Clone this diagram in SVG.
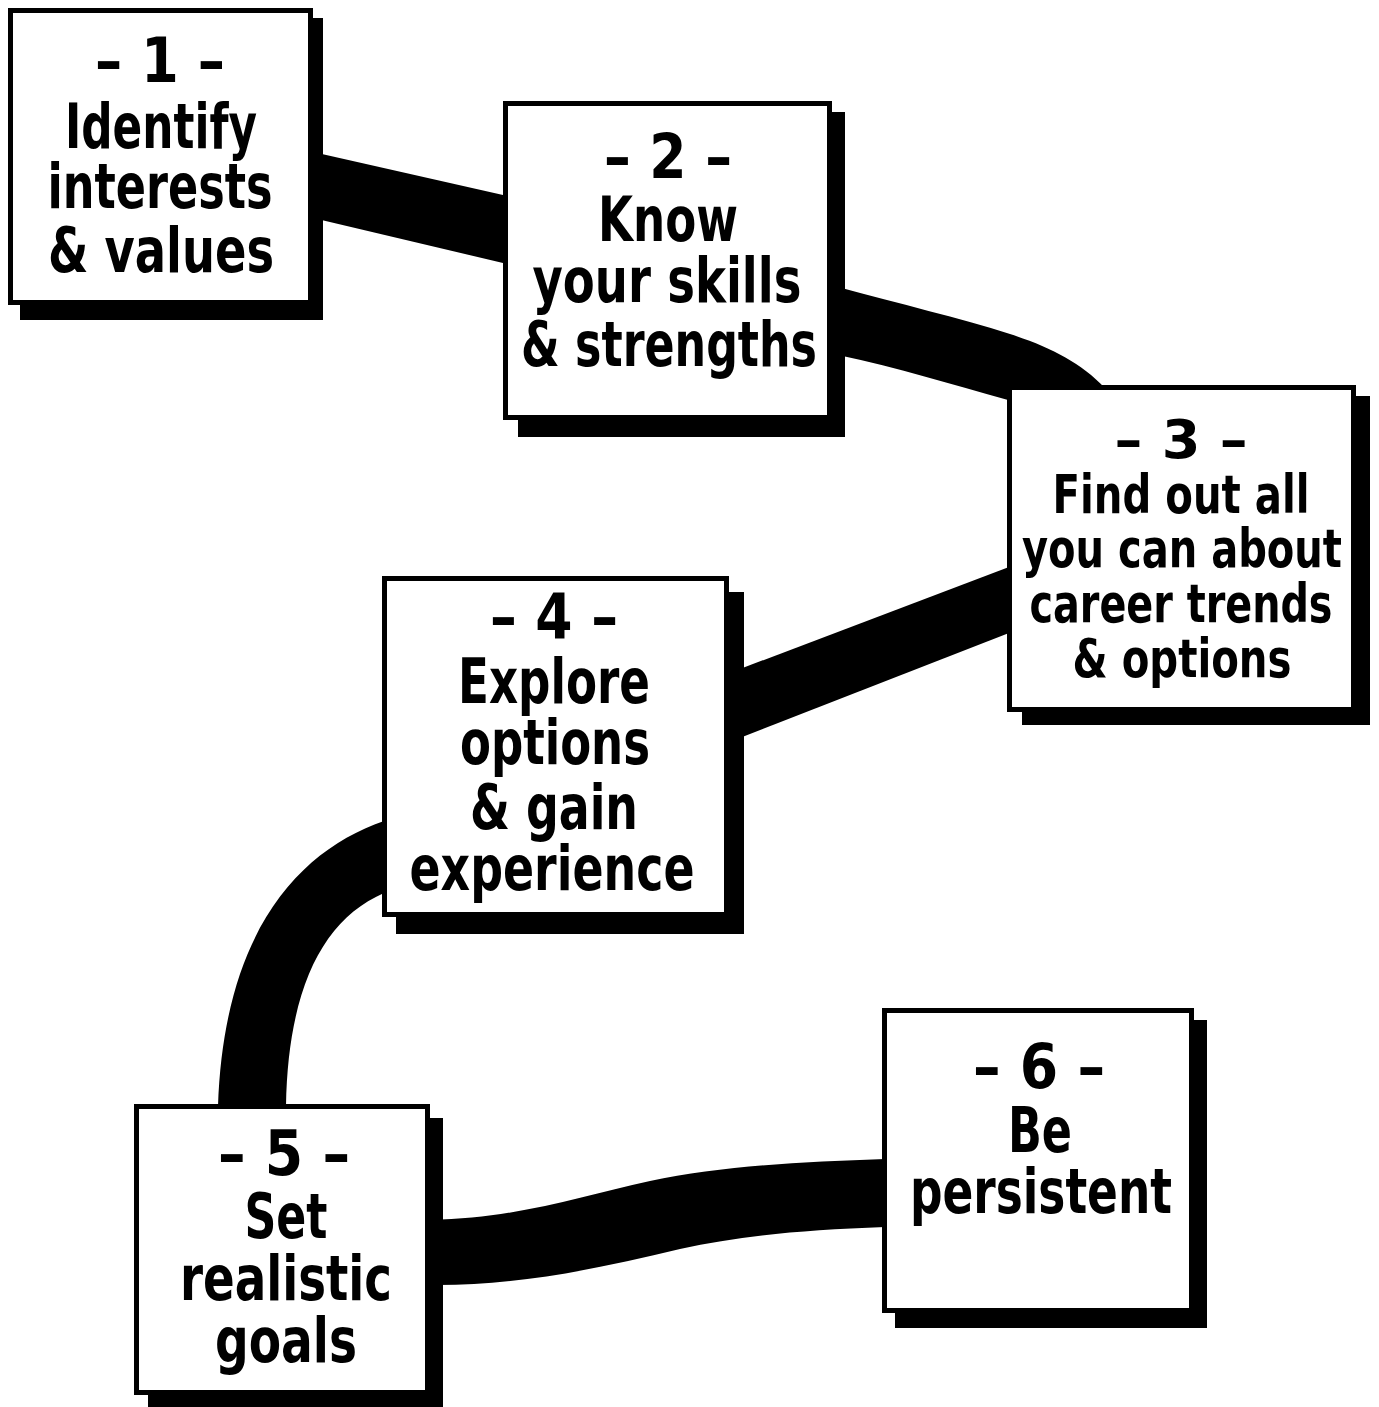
<svg xmlns="http://www.w3.org/2000/svg" width="1379" height="1407" viewBox="0 0 1379 1407">
<style>
.bg{fill:#fff}
.band{fill:#000}
.shadow{fill:#000}
.box{fill:#fff;stroke:#000;stroke-width:5}
.t{font-family:"Liberation Sans Narrow","DejaVu Sans Condensed","Liberation Sans",sans-serif;font-weight:bold;font-size:63px;text-anchor:middle;fill:#000}
.s{font-size:53px}
</style>
<rect class="bg" x="0" y="0" width="1379" height="1407"/>
<g id="connectors">
<path class="band" d="M313,152 L503,195 L503,263 L313,218 Z"/>
<path class="band" d="M838,287 C900,304 960,318 1010,334 C1050,347 1080,362 1105,388 L1010,392 L1008,400 C950,384 900,368 838,355 Z"/>
<path class="band" d="M1009,567 L732,672 L732,741 L1009,633 Z"/>
<path class="band" d="M384,821 C300,850 224,930 218,1106 L286,1106 C288,990 322,920 384,893 Z"/>
<path class="band" d="M430,1220 C520,1218 580,1196 650,1181 C720,1166 800,1162 885,1159 L885,1227 C800,1230 740,1236 680,1249 C600,1268 520,1286 430,1285 Z"/>
</g>
<g id="node1">
<rect class="shadow" x="20" y="18" width="303" height="302"/>
<rect class="box" x="10.5" y="10.5" width="300" height="292"/>
<text class="t" x="160" y="82" textLength="130" lengthAdjust="spacingAndGlyphs">– 1 –</text>
<text class="t" x="161" y="148" textLength="192" lengthAdjust="spacingAndGlyphs">Identify</text>
<text class="t" x="160" y="208" textLength="225" lengthAdjust="spacingAndGlyphs">interests</text>
<text class="t" x="161" y="272" textLength="226" lengthAdjust="spacingAndGlyphs">&amp; values</text>
</g>
<g id="node2">
<rect class="shadow" x="518" y="112" width="327" height="325"/>
<rect class="box" x="505.5" y="103.5" width="324" height="314"/>
<text class="t" x="668" y="178" textLength="128" lengthAdjust="spacingAndGlyphs">– 2 –</text>
<text class="t" x="668" y="241" textLength="140" lengthAdjust="spacingAndGlyphs">Know</text>
<text class="t" x="667" y="302" textLength="269" lengthAdjust="spacingAndGlyphs">your skills</text>
<text class="t" x="669" y="366" textLength="296" lengthAdjust="spacingAndGlyphs">&amp; strengths</text>
</g>
<g id="node3">
<rect class="shadow" x="1022" y="396" width="348" height="329"/>
<rect class="box" x="1009.5" y="387.5" width="344" height="322"/>
<text class="t s" x="1181" y="458" textLength="133" lengthAdjust="spacingAndGlyphs">– 3 –</text>
<text class="t s" x="1181" y="513" textLength="257" lengthAdjust="spacingAndGlyphs">Find out all</text>
<text class="t s" x="1182" y="567" textLength="320" lengthAdjust="spacingAndGlyphs">you can about</text>
<text class="t s" x="1181" y="622" textLength="303" lengthAdjust="spacingAndGlyphs">career trends</text>
<text class="t s" x="1182" y="677" textLength="219" lengthAdjust="spacingAndGlyphs">&amp; options</text>
</g>
<g id="node4">
<rect class="shadow" x="396" y="592" width="348" height="342"/>
<rect class="box" x="384.5" y="578.5" width="342" height="336"/>
<text class="t" x="554" y="638" textLength="128" lengthAdjust="spacingAndGlyphs">– 4 –</text>
<text class="t" x="554" y="703" textLength="192" lengthAdjust="spacingAndGlyphs">Explore</text>
<text class="t" x="555" y="764" textLength="190" lengthAdjust="spacingAndGlyphs">options</text>
<text class="t" x="554" y="829" textLength="168" lengthAdjust="spacingAndGlyphs">&amp; gain</text>
<text class="t" x="552" y="890" textLength="285" lengthAdjust="spacingAndGlyphs">experience</text>
</g>
<g id="node5">
<rect class="shadow" x="148" y="1118" width="295" height="289"/>
<rect class="box" x="136.5" y="1106.5" width="291" height="286"/>
<text class="t" x="284" y="1175" textLength="132" lengthAdjust="spacingAndGlyphs">– 5 –</text>
<text class="t" x="286" y="1238" textLength="83" lengthAdjust="spacingAndGlyphs">Set</text>
<text class="t" x="286" y="1300" textLength="212" lengthAdjust="spacingAndGlyphs">realistic</text>
<text class="t" x="286" y="1362" textLength="142" lengthAdjust="spacingAndGlyphs">goals</text>
</g>
<g id="node6">
<rect class="shadow" x="895" y="1020" width="312" height="308"/>
<rect class="box" x="884.5" y="1010.5" width="307" height="300"/>
<text class="t" x="1039" y="1088" textLength="132" lengthAdjust="spacingAndGlyphs">– 6 –</text>
<text class="t" x="1040" y="1152" textLength="64" lengthAdjust="spacingAndGlyphs">Be</text>
<text class="t" x="1041" y="1213" textLength="262" lengthAdjust="spacingAndGlyphs">persistent</text>
</g>
</svg>
